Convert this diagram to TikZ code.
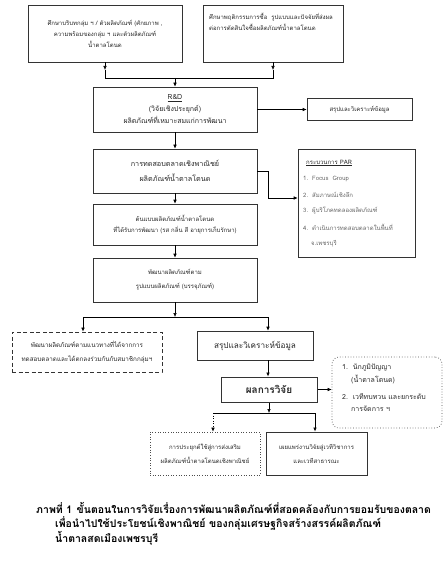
\documentclass[tikz,border=0pt]{standalone}
\usepackage{fontspec}
\newfontfamily\thai[Script=Thai]{Loma}
\usetikzlibrary{arrows.meta}
\begin{document}
\begin{tikzpicture}[x=1pt,y=-1pt,
  font=\thai\fontsize{6}{11}\selectfont,
  box/.style={draw=black!80, line width=0.6pt, align=center, inner sep=1pt, text=black!85},
  line/.style={line width=0.6pt, draw=black},
  arr/.style={line, -{Latex[length=4pt,width=3.6pt]}},
  txt/.style={inner sep=0pt, anchor=west, text=black!85},
  gtxt/.style={inner sep=0pt, anchor=west, text=black!60}
]
\useasboundingbox (0,0) rectangle (444,572);

% top boxes
\node[box, minimum width=154, minimum height=57] (b1) at (105,33.5)
  {ศึกษาบริบทกลุ่ม ฯ / ตัวผลิตภัณฑ์ (ศักยภาพ ,\\ความพร้อมของกลุ่ม ฯ และตัวผลิตภัณฑ์\\น้ำตาลโตนด};
\node[box, minimum width=140, minimum height=57] (b2) at (273,33.5) {};
\node[txt, align=left, anchor=north west] (b2t) at (209,13)
  {ศึกษาพฤติกรรมการซื้อ\ \ รูปแบบและปัจจัยที่ส่งผล\\ต่อการตัดสินใจซื้อผลิตภัณฑ์น้ำตาลโตนด};

\coordinate (j1) at (175,78);
\coordinate (a1) at (105,70);
\coordinate (a2) at (273,70);
\draw[arr] (b1.south) -- (a1);
\draw[arr] (b2.south) -- (a2);
\draw[line] (a1) -- (a1 |- j1) -- (a2 |- j1) -- (a2);

% R&D
\node[box, minimum width=164, minimum height=45, font=\thai\fontsize{7}{12}\selectfont] (rd) at (175,109.5)
  {\underline{R\&D}\\(วิจัยเชิงประยุกต์)\\ผลิตภัณฑ์ที่เหมาะสมแก่การพัฒนา};
\draw[arr] (j1) -- (rd.north);
\node[box, minimum width=105, minimum height=22] (s1) at (359.5,109.5) {สรุปและวิเคราะห์ข้อมูล};
\draw[arr] (rd.east) -- (s1.west);

% market test
\node[box, minimum width=164, minimum height=44, font=\thai\fontsize{7.2}{12}\selectfont] (mt) at (175,171)
  {การทดสอบตลาดเชิงพาณิชย์\\[3pt]ผลิตภัณฑ์น้ำตาลโตนด};
\draw[arr] (rd.south) -- (mt.north);

% PAR
\node[box, minimum width=117, minimum height=108] (par) at (356.5,203) {};
\node[txt] (p0) at (306,163) {\underline{กระบวนการ PAR}};
\node[gtxt] (p1) at (303,179) {1.\ \ Focus\ \ Group};
\node[gtxt] (p2) at (303,195) {2.\ \ สัมภาษณ์เชิงลึก};
\node[gtxt] (p3) at (303,211) {3.\ \ ผู้บริโภคทดลองผลิตภัณฑ์};
\node[gtxt] (p4) at (303,227) {4.\ \ ดำเนินการทดสอบตลาดในพื้นที่};
\node[gtxt] (p5) at (311,244) {จ.เพชรบุรี};
\coordinate (pk) at (268,198);
\draw[arr] (mt.east) -| (pk) -- (pk -| par.west);

% prototype
\node[box, minimum width=164, minimum height=41] (pr) at (175,224.5)
  {ต้นแบบผลิตภัณฑ์น้ำตาลโตนด\\ที่ได้รับการพัฒนา (รส กลิ่น สี อายุการเก็บรักษา)};
\draw[arr] (mt.south) -- (pr.north);

\node[box, minimum width=164, minimum height=44] (pk2) at (175,280)
  {พัฒนาผลิตภัณฑ์ตาม\\[3pt]รูปแบบผลิตภัณฑ์ (บรรจุภัณฑ์)};
\draw[arr] (pr.south) -- (pk2.north);

% split 2
\coordinate (j2) at (175,317);
\coordinate (j2l) at (83,317);
\coordinate (j2r) at (268,317);
\draw[arr] (pk2.south) -- (j2);
\draw[line] (j2l) -- (j2r);

\node[box, dashed, dash pattern=on 4pt off 2.5pt, line width=0.8pt, minimum width=150, minimum height=40, font=\thai\fontsize{6.3}{11}\selectfont] (dsh) at (87,352)
  {พัฒนาผลิตภัณฑ์ตามแนวทางที่ได้จากการ\\[3pt]ทดสอบตลาดและได้ตกลงร่วมกันกับสมาชิกกลุ่มฯ};
\node[box, minimum width=116, minimum height=29, font=\thai\fontsize{8.2}{11}\selectfont] (s2) at (255,345.5) {สรุปและวิเคราะห์ข้อมูล};
\draw[arr] (j2l) -- (j2l |- dsh.north);
\draw[arr] (j2r) -- (j2r |- s2.north);

% results
\node[box, line width=1pt, minimum width=96, minimum height=25, font=\thai\bfseries\fontsize{10}{12}\selectfont] (res) at (269,389.5) {ผลการวิจัย};
\draw[arr] (j2r |- s2.south) -- (j2r |- res.north);

\node[draw=black!70, dotted, line width=0.7pt, rounded corners=7pt, minimum width=110, minimum height=71] (ben) at (387,392.5) {};
\begin{scope}[every node/.append style={font=\thai\fontsize{7}{11}\selectfont}]
\node[txt] (e1) at (342,368) {1.\ \ นักภูมิปัญญา};
\node[txt] (e2) at (351,380) {(น้ำตาลโตนด)};
\node[txt] (e3) at (342,397) {2.\ \ เวทีทบทวน และยกระดับ};
\node[txt] (e4) at (351,409) {การจัดการ ฯ};
\end{scope}
\draw[arr] (res.east) -- (res.east -| ben.west);

\coordinate (j3) at (269,413);
\coordinate (j3l) at (213,413);
\coordinate (j3r) at (315,413);
\draw[arr] (res.south) -- (j3);
\draw[line] (j3l) -- (j3r);

\node[box, draw=black!70, dotted, line width=0.7pt, minimum width=110, minimum height=43] (app) at (205,453.5)
  {การประยุกต์ใช้สู่การส่งเสริม\\[3pt]ผลิตภัณฑ์น้ำตาลโตนดเชิงพาณิชย์};
\node[box, line width=1pt, minimum width=101, minimum height=43] (pub) at (316.5,453.5)
  {เผยแพร่งานวิจัยสู่เวทีวิชาการ\\[3pt]และเวทีสาธารณะ};
\draw[arr, dotted] (j3l) -- (j3l |- app.north);
\draw[arr] (j3r) -- (j3r |- pub.north);

% caption
\begin{scope}[every node/.style={inner sep=0pt, anchor=west, font=\thai\bfseries\fontsize{10.5}{14}\selectfont}]
\node (c0) at (36,508) {ภาพที่ 1};
\node (c1) at ([xshift=4pt]c0.east) {ขั้นตอนในการวิจัยเรื่องการพัฒนาผลิตภัณฑ์ที่สอดคล้องกับการยอมรับของตลาด};
\node (c2) at (55,523) {เพื่อนำไปใช้ประโยชน์เชิงพาณิชย์ ของกลุ่มเศรษฐกิจสร้างสรรค์ผลิตภัณฑ์};
\node (c3) at (55,538) {น้ำตาลสดเมืองเพชรบุรี};
\end{scope}
\end{tikzpicture}
\end{document}
